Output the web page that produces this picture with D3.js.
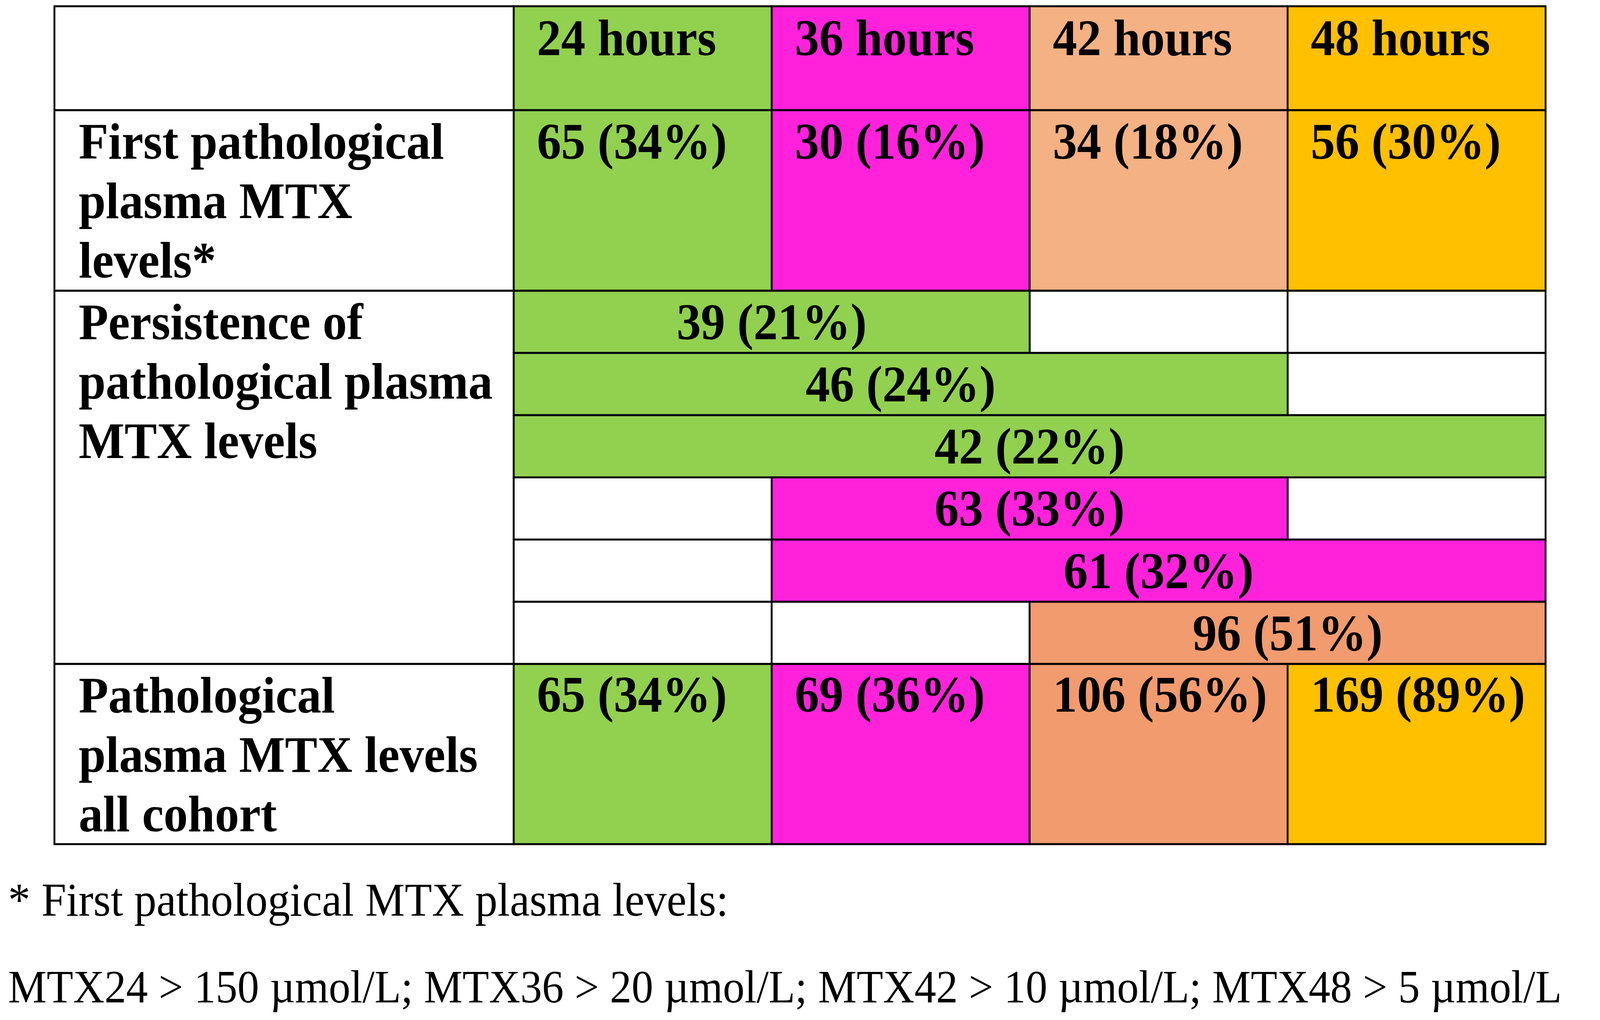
<!DOCTYPE html>
<html>
<head>
<meta charset="utf-8">
<script src="https://cdn.jsdelivr.net/npm/d3@7"></script>
<style>
  html, body { margin: 0; padding: 0; background: #fff; overflow: hidden; }
  svg { display: block; }
  text { font-family: "Liberation Serif", "Times New Roman", serif; }
</style>
</head>
<body>
<script>
// Table content
var hours = ["24 hours", "36 hours", "42 hours", "48 hours"];
var firstCounts = [65, 30, 34, 56];
var firstPct = [34, 16, 18, 30];

// Persistence rows: span from column start to column end (exclusive)
var persistStart = [0, 0, 0, 1, 1, 2];
var persistEnd = [2, 3, 4, 3, 4, 4];
var persistCounts = [39, 46, 42, 63, 61, 96];
var persistPct = [21, 24, 22, 33, 32, 51];

var allCounts = [65, 69, 106, 169];
var allPct = [34, 36, 56, 89];

var rowLabels = [
  ["First pathological", "plasma MTX", "levels*"],
  ["Persistence of", "pathological plasma", "MTX levels"],
  ["Pathological", "plasma MTX levels", "all cohort"]
];

var footnotes = [
  "* First pathological MTX plasma levels:",
  "MTX24 > 150 \u00b5mol/L; MTX36 > 20 \u00b5mol/L; MTX42 > 10 \u00b5mol/L; MTX48 > 5 \u00b5mol/L"
];

// Colours per time column
var topColors = ["#92D050", "#FF22DA", "#F4B183", "#FFC000"];
var lowColors = ["#92D050", "#FF22DA", "#F19B6F", "#FFC000"];

var width = 4351, height = 2610;
var fontSize = 132, lineH = 152, baseOff = 124, padX = 63;

// viewBox so the whole table fits the window whatever its real size
var svg = d3.select("body").append("svg")
    .attr("viewBox", "0 0 " + width + " " + height)
    .attr("preserveAspectRatio", "none")
    .style("width", "100vw")
    .style("height", "100vh");

// Column scale (time columns) and label column
var tableLeft = 148;
var x = d3.scaleLinear().domain([0, 4]).range([1397, 4203]);

// Row boundaries
var yHeadTop = 16, yFirstTop = 282, yPersTop = 744, yAllTop = 1699, yBottom = 2160;
var ySub = d3.scaleLinear().domain([0, 6]).range([yPersTop, yAllTop]);

function cell(x0, y0, x1, y1, fill) {
  svg.append("rect")
      .attr("x", x0).attr("y", y0)
      .attr("width", x1 - x0).attr("height", y1 - y0)
      .attr("fill", fill)
      .attr("stroke", "#000")
      .attr("stroke-width", 5);
}

function boldText(tx, ty, str, anchor) {
  svg.append("text")
      .attr("x", tx).attr("y", ty)
      .attr("text-anchor", anchor || "start")
      .style("font-size", fontSize + "px")
      .style("font-weight", "bold")
      .text(str);
}

// Label column cells
cell(tableLeft, yHeadTop, x(0), yFirstTop, "#fff");
cell(tableLeft, yFirstTop, x(0), yPersTop, "#fff");
cell(tableLeft, yPersTop, x(0), yAllTop, "#fff");
cell(tableLeft, yAllTop, x(0), yBottom, "#fff");

[yFirstTop, yPersTop, yAllTop].forEach(function(top, i) {
  rowLabels[i].forEach(function(line, j) {
    boldText(tableLeft + 66, top + baseOff + j * lineH, line);
  });
});

// Header row and first pathological row
hours.forEach(function(h, i) {
  cell(x(i), yHeadTop, x(i + 1), yFirstTop, topColors[i]);
  boldText(x(i) + padX, yHeadTop + baseOff + 1, h);
  cell(x(i), yFirstTop, x(i + 1), yPersTop, topColors[i]);
  boldText(x(i) + padX, yFirstTop + baseOff, firstCounts[i] + " (" + firstPct[i] + "%)");
});

// Persistence rows
persistCounts.forEach(function(n, r) {
  var s = persistStart[r], e = persistEnd[r];
  for (var c = 0; c < 4; c++) {
    if (c < s || c >= e) cell(x(c), ySub(r), x(c + 1), ySub(r + 1), "#fff");
  }
  cell(x(s), ySub(r), x(e), ySub(r + 1), lowColors[s]);
  boldText((x(s) + x(e)) / 2, ySub(r) + baseOff, n + " (" + persistPct[r] + "%)", "middle");
});

// All cohort row
allCounts.forEach(function(n, i) {
  cell(x(i), yAllTop, x(i + 1), yBottom, lowColors[i]);
  boldText(x(i) + padX, yAllTop + baseOff - 2, n + " (" + allPct[i] + "%)");
});

// Footnotes
footnotes.forEach(function(t, i) {
  svg.append("text")
      .attr("x", 22)
      .attr("y", 2343 + i * 222)
      .style("font-size", i === 0 ? "121px" : "118px")
      .text(t);
});
</script>
</body>
</html>
